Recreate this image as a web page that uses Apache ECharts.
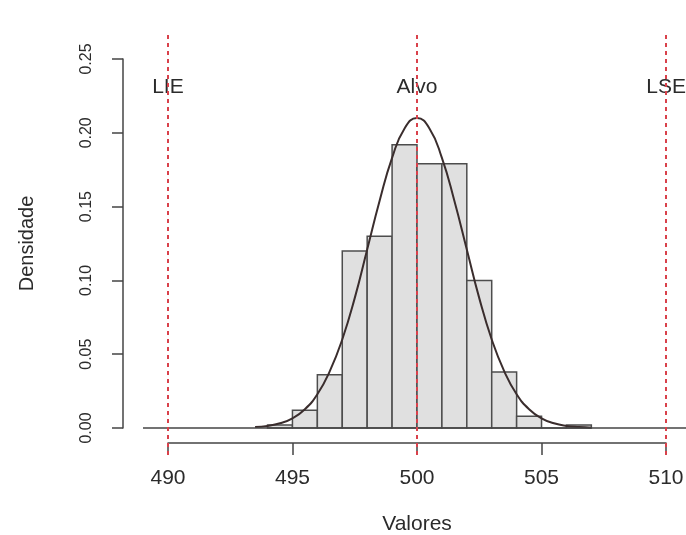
<!DOCTYPE html>
<html>
<head>
<meta charset="utf-8">
<script src="https://cdn.jsdelivr.net/npm/echarts@6/dist/echarts.min.js"></script>
<style>
  html, body { margin: 0; padding: 0; background: #fff; }
  #chart { width: 686px; height: 535px; }
</style>
</head>
<body>
<div id="chart"></div>
<script>
// histogram bins (width 1) and their densities
const binWidth = 1;
const binStarts = [494, 495, 496, 497, 498, 499, 500, 501, 502, 503, 504, 505, 506];
const densities = [0.002, 0.012, 0.036, 0.120, 0.130, 0.192, 0.179, 0.179, 0.100, 0.038, 0.008, 0, 0.002];

// fitted density curve
const curveX = [493.5, 494, 494.5, 495, 495.5, 496, 496.5, 497, 497.5, 498, 498.5, 499, 499.5, 500,
  500.5, 501, 501.5, 502, 502.5, 503, 503.5, 504, 504.5, 505, 505.5, 506, 506.5, 507];
const curveY = [0.0006, 0.0014, 0.0032, 0.0066, 0.0127, 0.0229, 0.0385, 0.060, 0.088, 0.121, 0.154, 0.183, 0.203, 0.210,
  0.203, 0.183, 0.154, 0.121, 0.088, 0.060, 0.0385, 0.0229, 0.0127, 0.0066, 0.0032, 0.0014, 0.0006, 0.0002];

// spec limits and target
const markerValues = [490, 500, 510];
const markerNames = ['LIE', 'Alvo', 'LSE'];
const markerLabelY = 0.231;

const chart = echarts.init(document.getElementById('chart'));
const textColor = '#2b2b2b';
const axisColor = '#444';

const option = {
  animation: false,
  backgroundColor: '#fff',
  grid: [
    // main plotting area
    { left: 143, right: 0, top: 35, height: 420, outerBoundsMode: 'none' },
    // y axis only
    { left: 123, width: 1, top: 59, height: 369, outerBoundsMode: 'none' },
    // x axis only
    { left: 168, right: 20, bottom: 92, height: 1, outerBoundsMode: 'none' }
  ],
  xAxis: [
    { gridIndex: 0, type: 'value', min: 489, max: 510.8, show: false },
    { gridIndex: 1, type: 'value', min: 0, max: 1, show: false },
    {
      gridIndex: 2, type: 'value', min: 490, max: 510, interval: 5,
      axisLine: { show: true, lineStyle: { color: axisColor, width: 1.5 } },
      axisTick: { show: true, length: 12, lineStyle: { color: axisColor, width: 1.5 } },
      axisLabel: { margin: 25, fontSize: 21, color: textColor, fontFamily: 'Liberation Sans' },
      splitLine: { show: false },
      name: 'Valores', nameLocation: 'middle', nameGap: 71,
      nameTextStyle: { fontSize: 21, color: textColor, fontFamily: 'Liberation Sans' }
    }
  ],
  yAxis: [
    { gridIndex: 0, type: 'value', min: -0.0183, max: 0.2663, show: false },
    {
      gridIndex: 1, type: 'value', min: 0, max: 0.25, interval: 0.05,
      axisLine: { show: true, lineStyle: { color: axisColor, width: 1.5 } },
      axisTick: { show: true, length: 11, lineStyle: { color: axisColor, width: 1.5 } },
      axisLabel: {
        rotate: 90, margin: 28, fontSize: 16, color: textColor, fontFamily: 'Liberation Sans',
        formatter: v => v.toFixed(2)
      },
      splitLine: { show: false },
      name: 'Densidade', nameLocation: 'middle', nameGap: 86,
      nameTextStyle: { fontSize: 20, color: textColor, fontFamily: 'Liberation Sans' }
    },
    { gridIndex: 2, type: 'value', min: 0, max: 1, show: false }
  ],
  series: [
    {
      type: 'custom',
      xAxisIndex: 0, yAxisIndex: 0,
      data: binStarts.map((b, i) => [b, densities[i]]),
      encode: { x: 0, y: 1 },
      renderItem: (params, api) => {
        const x0 = api.value(0);
        const h = api.value(1);
        const p0 = api.coord([x0, h]);
        const p1 = api.coord([x0 + binWidth, 0]);
        return {
          type: 'rect',
          shape: { x: p0[0], y: p0[1], width: p1[0] - p0[0], height: p1[1] - p0[1] },
          style: { fill: '#e0e0e0', stroke: '#4d4d4d', lineWidth: 1.5 }
        };
      },
      z: 2
    },
    {
      type: 'line',
      xAxisIndex: 0, yAxisIndex: 0,
      data: curveX.map((x, i) => [x, curveY[i]]),
      smooth: true,
      showSymbol: false,
      lineStyle: { color: '#3a2d2d', width: 2 },
      z: 3,
      // baseline and reference lines
      markLine: {
        silent: true,
        symbol: 'none',
        label: { show: false },
        data: [
          { yAxis: 0, lineStyle: { color: axisColor, width: 1.5, type: 'solid' } },
          ...markerValues.map(v => ({
            xAxis: v, lineStyle: { color: '#d9414b', width: 2, type: [4, 4] }
          }))
        ]
      }
    },
    {
      type: 'scatter',
      xAxisIndex: 0, yAxisIndex: 0,
      data: markerValues.map(v => [v, markerLabelY]),
      symbolSize: 0,
      silent: true,
      itemStyle: { opacity: 1 },
      label: {
        show: true, position: 'inside',
        formatter: p => markerNames[p.dataIndex],
        fontSize: 21, color: textColor, fontFamily: 'Liberation Sans'
      },
      z: 4
    }
  ]
};

chart.setOption(option);
</script>
</body>
</html>
